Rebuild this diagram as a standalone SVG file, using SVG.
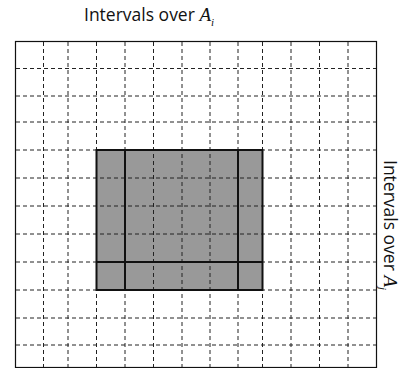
<svg xmlns="http://www.w3.org/2000/svg" width="407" height="368" viewBox="0 0 407 368">
<style>
.lbl{font-family:"Open Sans","Liberation Sans",sans-serif;font-size:17.5px;fill:#111}
.math{font-family:"Liberation Serif",serif;font-style:italic}
.grid line{stroke:#222;stroke-width:1;stroke-dasharray:4 3}
.thick{stroke:#111;stroke-width:2;fill:none}
</style>
<rect width="407" height="368" fill="#fff"/>
<g id="frame"><rect x="15.5" y="41.5" width="361" height="326" fill="none" stroke="#111" stroke-width="1.2"/></g>
<g id="region"><rect x="96.5" y="150" width="166" height="140" fill="#999"/></g>
<g class="grid" id="grid">
<line x1="43.5" y1="42" x2="43.5" y2="367"/>
<line x1="68" y1="42" x2="68" y2="367"/>
<line x1="96.5" y1="42" x2="96.5" y2="367"/>
<line x1="125" y1="42" x2="125" y2="367"/>
<line x1="153.5" y1="42" x2="153.5" y2="367"/>
<line x1="182" y1="42" x2="182" y2="367"/>
<line x1="210" y1="42" x2="210" y2="367"/>
<line x1="238" y1="42" x2="238" y2="367"/>
<line x1="262.5" y1="42" x2="262.5" y2="367"/>
<line x1="291" y1="42" x2="291" y2="367"/>
<line x1="319.5" y1="42" x2="319.5" y2="367"/>
<line x1="348" y1="42" x2="348" y2="367"/>
<line x1="16" y1="68.5" x2="376" y2="68.5"/>
<line x1="16" y1="96" x2="376" y2="96"/>
<line x1="16" y1="122" x2="376" y2="122"/>
<line x1="16" y1="150" x2="376" y2="150"/>
<line x1="16" y1="178" x2="376" y2="178"/>
<line x1="16" y1="206" x2="376" y2="206"/>
<line x1="16" y1="234" x2="376" y2="234"/>
<line x1="16" y1="262" x2="376" y2="262"/>
<line x1="16" y1="290" x2="376" y2="290"/>
<line x1="16" y1="318" x2="376" y2="318"/>
<line x1="16" y1="345" x2="376" y2="345"/>
</g>
<g id="region-borders">
<rect class="thick" x="96.5" y="150" width="166" height="140"/>
<line class="thick" x1="125" y1="150" x2="125" y2="290"/>
<line class="thick" x1="238" y1="150" x2="238" y2="290"/>
<line class="thick" x1="96.5" y1="262" x2="262.5" y2="262"/>
</g>
<g id="label-top"><text class="lbl" x="84" y="21">Intervals over <tspan class="math" font-size="19">A</tspan><tspan class="math" font-size="11" dy="5">i</tspan></text></g>
<g id="label-right"><text class="lbl" transform="translate(384,160) rotate(90)">Intervals over <tspan class="math" font-size="19">A</tspan><tspan class="math" font-size="11" dy="5">j</tspan></text></g>
</svg>
